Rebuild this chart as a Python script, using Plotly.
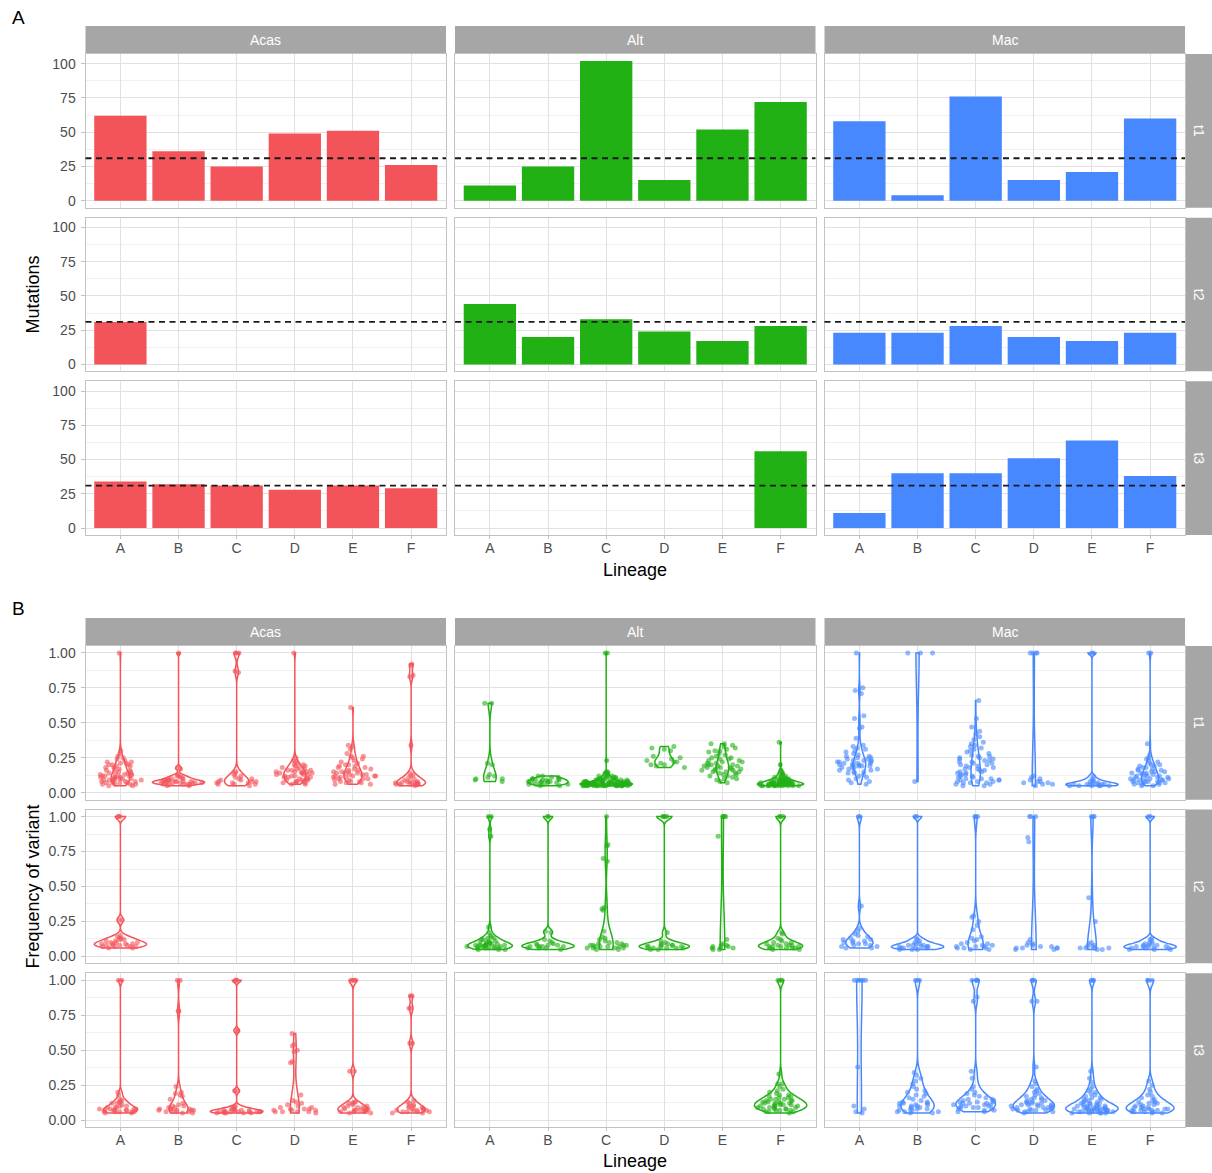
import plotly.graph_objects as go

# ---------------------------------------------------------------- data
lineages = ["A", "B", "C", "D", "E", "F"]
species = ["Acas", "Alt", "Mac"]
timepoints = ["t1", "t2", "t3"]

# Number of mutations per lineage (None = lineage not sampled)
mut_acas_t1 = [62, 36, 25, 49, 51, 26]
mut_alt_t1 = [11, 25, 102, 15, 52, 72]
mut_mac_t1 = [58, 4, 76, 15, 21, 60]
mut_acas_t2 = [31, None, None, None, None, None]
mut_alt_t2 = [44, 20, 33, 24, 17, 28]
mut_mac_t2 = [23, 23, 28, 20, 17, 23]
mut_acas_t3 = [34, 32, 31, 28, 31, 29]
mut_alt_t3 = [None, None, None, None, None, 56]
mut_mac_t3 = [11, 40, 40, 51, 64, 38]
mutation_reference = 31

# Variant frequencies (percent) per lineage
freq_acas_t1 = {
    "A": [5, 5, 6, 6, 6, 6, 7, 7, 7, 7, 8, 8, 8, 8, 9, 9, 9, 9, 10, 10, 10, 10, 11, 11, 11, 11, 12, 12, 12, 12,
          13, 13, 13, 13, 14, 14, 14, 15, 15, 16, 16, 17, 17, 18, 18, 19, 19, 20, 20, 20, 21, 21, 22, 22, 23, 24,
          25, 26, 28, 30, 100],
    "B": [5, 5, 6, 6, 6, 6, 6, 7, 7, 7, 7, 7, 7, 7, 8, 8, 8, 8, 8, 8, 9, 9, 9, 9, 10, 10, 10, 11, 11, 12, 12, 13,
          17, 18, 100],
    "C": [5, 6, 6, 6, 7, 7, 7, 8, 8, 8, 9, 9, 10, 10, 11, 12, 13, 14, 15, 86, 87, 100, 100, 100],
    "D": [6, 6, 7, 7, 7, 8, 8, 8, 9, 9, 9, 10, 10, 10, 11, 11, 11, 12, 12, 12, 13, 13, 13, 14, 14, 14, 14, 15, 15,
          15, 15, 16, 16, 16, 17, 17, 18, 18, 19, 19, 20, 20, 21, 22, 23, 25, 100],
    "E": [6, 6, 7, 7, 8, 8, 8, 9, 9, 10, 10, 10, 11, 11, 11, 12, 12, 12, 12, 13, 13, 13, 14, 14, 14, 15, 15, 15,
          16, 16, 17, 17, 18, 18, 19, 19, 20, 20, 21, 22, 23, 24, 25, 26, 26, 28, 31, 33, 34, 61],
    "F": [5, 6, 6, 6, 6, 6, 6, 7, 7, 7, 7, 7, 8, 8, 8, 9, 10, 11, 12, 13, 14, 34, 83, 84, 91, 92],
}
freq_alt_t1 = {
    "A": [8, 9, 10, 10, 11, 12, 13, 20, 21, 64, 64],
    "B": [5, 5, 6, 6, 6, 7, 7, 7, 7, 8, 8, 8, 8, 9, 9, 9, 9, 10, 10, 10, 11, 11, 12, 12, 6],
    "C": [5, 5, 5, 5, 5, 5, 5, 5, 5, 5, 5, 5, 5, 5, 5, 5, 5, 5, 6, 6, 6, 6, 6, 6, 6, 6, 6, 6, 6, 6, 6, 6, 6, 6, 6,
          6, 6, 6, 6, 6, 6, 6, 6, 6, 7, 7, 7, 7, 7, 7, 7, 7, 7, 7, 7, 7, 7, 7, 7, 7, 7, 7, 8, 8, 8, 8, 8, 8, 8, 8,
          8, 8, 9, 9, 9, 9, 9, 9, 9, 10, 10, 10, 10, 10, 11, 11, 11, 11, 12, 12, 12, 13, 13, 14, 14, 15, 23, 100,
          100],
    "D": [18, 19, 20, 20, 21, 22, 22, 23, 24, 25, 26, 30, 31, 32, 33],
    "E": [7, 8, 9, 10, 10, 11, 12, 12, 13, 13, 14, 14, 15, 15, 15, 16, 16, 16, 17, 17, 17, 18, 18, 18, 19, 19, 19,
          20, 20, 20, 21, 21, 22, 22, 23, 23, 24, 24, 25, 25, 26, 27, 28, 29, 30, 30, 31, 32, 33, 34, 35, 35],
    "F": [5, 5, 5, 5, 5, 5, 5, 5, 5, 5, 5, 5, 6, 6, 6, 6, 6, 6, 6, 6, 6, 6, 6, 6, 6, 6, 6, 7, 7, 7, 7, 7, 7, 7,
          7, 7, 7, 7, 7, 8, 8, 8, 8, 8, 8, 8, 8, 9, 9, 9, 9, 9, 9, 10, 10, 10, 10, 10, 11, 11, 12, 12, 13, 13, 14,
          15, 16, 20, 36],
}
freq_mac_t1 = {
    "A": [6, 7, 8, 9, 10, 11, 12, 13, 14, 14, 15, 15, 16, 16, 17, 17, 18, 18, 18, 19, 19, 19, 20, 20, 20, 20, 21,
          21, 21, 22, 22, 22, 23, 23, 23, 24, 24, 25, 25, 26, 26, 27, 28, 29, 30, 31, 32, 33, 34, 39, 46, 47, 53,
          55, 71, 73, 75, 100],
    "B": [8, 100, 100, 100],
    "C": [5, 5, 6, 6, 7, 7, 7, 8, 8, 8, 9, 9, 9, 10, 10, 10, 11, 11, 12, 12, 13, 13, 14, 14, 15, 15, 16, 16, 17,
          17, 18, 18, 19, 19, 20, 20, 21, 21, 22, 22, 23, 23, 24, 24, 25, 25, 26, 26, 27, 28, 29, 30, 31, 32, 33,
          34, 35, 36, 38, 40, 42, 44, 47, 53, 66],
    "D": [5, 6, 6, 7, 7, 8, 8, 9, 10, 11, 12, 100, 100, 100, 100],
    "E": [5, 5, 5, 5, 5, 5, 6, 6, 6, 6, 6, 6, 7, 7, 8, 8, 9, 10, 12, 100, 100],
    "F": [5, 5, 6, 6, 6, 7, 7, 7, 7, 8, 8, 8, 8, 9, 9, 9, 9, 10, 10, 10, 10, 11, 11, 11, 12, 12, 12, 13, 13, 13,
          14, 14, 14, 15, 15, 15, 16, 16, 17, 17, 18, 18, 19, 19, 20, 20, 21, 22, 23, 24, 25, 27, 35, 100, 100],
}
freq_acas_t2 = {
    "A": [6, 6, 7, 7, 7, 7, 8, 8, 8, 8, 9, 9, 9, 9, 10, 10, 10, 11, 11, 12, 12, 13, 13, 14, 15, 26, 26, 100, 100,
          100],
}
freq_alt_t2 = {
    "A": [5, 5, 5, 6, 6, 6, 6, 6, 7, 7, 7, 7, 7, 7, 8, 8, 8, 8, 8, 9, 9, 9, 9, 10, 10, 10, 11, 11, 12, 12, 13, 13,
          14, 15, 17, 21, 86, 91, 100, 100],
    "B": [5, 6, 6, 7, 7, 7, 7, 8, 8, 8, 9, 9, 10, 11, 12, 6, 17, 18, 100, 100],
    "C": [5, 5, 6, 6, 6, 7, 7, 7, 8, 8, 8, 9, 9, 10, 10, 11, 12, 13, 14, 6, 7, 8, 18, 33, 34, 35, 68, 70, 79, 80,
          100],
    "D": [5, 5, 6, 6, 6, 6, 7, 7, 7, 7, 8, 8, 8, 9, 9, 10, 11, 17, 100, 100, 100, 100],
    "E": [5, 5, 6, 6, 6, 7, 7, 8, 8, 9, 12, 86, 100, 100, 100, 100],
    "F": [5, 5, 6, 6, 6, 6, 7, 7, 7, 7, 8, 8, 8, 9, 9, 10, 10, 11, 12, 13, 16, 17, 100, 100, 100],
}
freq_mac_t2 = {
    "A": [6, 6, 7, 7, 8, 8, 9, 9, 10, 10, 11, 11, 12, 12, 13, 14, 15, 16, 18, 20, 36, 100, 100],
    "B": [5, 5, 5, 6, 6, 6, 6, 7, 7, 7, 7, 8, 8, 8, 9, 9, 10, 11, 12, 13, 100, 100],
    "C": [5, 5, 6, 6, 6, 7, 7, 7, 8, 8, 9, 9, 10, 11, 12, 13, 14, 19, 22, 25, 28, 29, 100, 100, 100],
    "D": [5, 5, 6, 6, 6, 6, 7, 7, 8, 8, 9, 10, 12, 82, 85, 100, 100, 100],
    "E": [5, 5, 6, 6, 6, 6, 7, 7, 8, 9, 10, 25, 42, 100, 100, 100],
    "F": [5, 5, 5, 6, 6, 6, 6, 7, 7, 7, 7, 8, 8, 8, 9, 9, 10, 11, 12, 13, 100, 100],
}
freq_acas_t3 = {
    "A": [5, 5, 6, 6, 6, 6, 6, 7, 7, 7, 7, 7, 8, 8, 8, 8, 9, 9, 9, 10, 10, 11, 12, 12, 13, 13, 14, 15, 18, 20,
          100, 100],
    "B": [5, 5, 6, 6, 6, 6, 7, 7, 7, 7, 8, 8, 8, 8, 9, 9, 10, 10, 11, 12, 15, 17, 18, 19, 20, 24, 78, 78, 100, 100],
    "C": [5, 5, 5, 5, 5, 6, 6, 6, 6, 6, 6, 6, 6, 6, 7, 7, 7, 7, 7, 8, 8, 9, 9, 10, 21, 21, 64, 64, 100, 100, 100],
    "D": [5, 6, 6, 6, 6, 7, 7, 7, 8, 8, 8, 9, 9, 10, 11, 12, 13, 14, 18, 41, 42, 49, 50, 53, 54, 62],
    "E": [5, 5, 6, 6, 6, 6, 7, 7, 7, 7, 8, 8, 8, 9, 9, 9, 10, 10, 11, 12, 12, 13, 13, 35, 35, 100, 100, 100, 100],
    "F": [5, 5, 6, 6, 6, 6, 7, 7, 7, 7, 8, 8, 8, 9, 9, 10, 10, 11, 12, 13, 14, 55, 55, 80, 80, 89, 89],
}
freq_alt_t3 = {
    "F": [5, 6, 6, 6, 7, 7, 7, 8, 8, 8, 8, 9, 9, 9, 9, 10, 10, 10, 10, 11, 11, 11, 11, 12, 12, 12, 12, 13, 13,
          13, 14, 14, 14, 15, 15, 15, 16, 16, 17, 17, 18, 18, 19, 20, 21, 22, 24, 26, 26, 33, 100, 100, 100],
}
freq_mac_t3 = {
    "A": [5, 6, 8, 10, 38, 100, 100, 100, 100, 100, 100],
    "B": [5, 5, 6, 6, 7, 7, 8, 8, 9, 9, 10, 10, 11, 11, 12, 12, 13, 13, 14, 15, 16, 17, 18, 19, 20, 21, 22, 24, 26,
          28, 30, 32, 34, 6, 8, 10, 12, 100, 100, 100],
    "C": [6, 6, 7, 7, 8, 8, 9, 9, 9, 10, 10, 10, 11, 11, 11, 12, 12, 12, 13, 13, 13, 14, 14, 15, 15, 16, 17, 18, 19,
          20, 22, 24, 30, 35, 85, 88, 100, 100, 100, 100],
    "D": [5, 6, 6, 6, 7, 7, 7, 8, 8, 8, 9, 9, 9, 10, 10, 10, 11, 11, 11, 12, 12, 12, 13, 13, 14, 14, 15, 15, 16, 16,
          17, 18, 19, 20, 21, 22, 24, 26, 28, 38, 7, 9, 11, 85, 85, 100, 100, 100],
    "E": [5, 5, 5, 5, 5, 6, 6, 6, 6, 6, 6, 7, 7, 7, 7, 7, 7, 8, 8, 8, 8, 8, 8, 9, 9, 9, 9, 9, 10, 10, 10, 10, 11,
          11, 11, 12, 12, 12, 13, 13, 14, 14, 15, 15, 16, 16, 17, 18, 19, 20, 21, 22, 24, 27, 30, 35, 100, 100, 100],
    "F": [5, 5, 6, 6, 6, 7, 7, 7, 8, 8, 8, 9, 9, 9, 10, 10, 11, 11, 12, 12, 13, 13, 14, 15, 16, 17, 18, 20, 22, 25,
          28, 6, 7, 8, 100, 100, 100],
}

mutations = {
    ("Acas", "t1"): mut_acas_t1, ("Alt", "t1"): mut_alt_t1, ("Mac", "t1"): mut_mac_t1,
    ("Acas", "t2"): mut_acas_t2, ("Alt", "t2"): mut_alt_t2, ("Mac", "t2"): mut_mac_t2,
    ("Acas", "t3"): mut_acas_t3, ("Alt", "t3"): mut_alt_t3, ("Mac", "t3"): mut_mac_t3,
}
frequencies = {
    ("Acas", "t1"): freq_acas_t1, ("Alt", "t1"): freq_alt_t1, ("Mac", "t1"): freq_mac_t1,
    ("Acas", "t2"): freq_acas_t2, ("Alt", "t2"): freq_alt_t2, ("Mac", "t2"): freq_mac_t2,
    ("Acas", "t3"): freq_acas_t3, ("Alt", "t3"): freq_alt_t3, ("Mac", "t3"): freq_mac_t3,
}

# ---------------------------------------------------------------- style
W, H = 1212, 1173
FONT = "Liberation Sans, Arial, Helvetica, sans-serif"
colors = {"Acas": "#F3545A", "Alt": "#22B115", "Mac": "#4788FF"}
STRIP_FILL = "#A6A6A6"
BORDER = "#C2C2C2"
GRID_MAJOR = "#E1E1E1"
GRID_MINOR = "#F0F0F0"
TICK_TXT = "#4D4D4D"

col_left = [85.5, 455.0, 824.5]
col_width = 360.5
right_strip = (1185.5, 1212.0)
blocks = [
    dict(label="A", label_y=16.5, strip=(25, 53), rows=[53, 217, 381], yrange=[-5.1, 107.1], dtick=25,
         fmt="d", title="Mutations", lineage_y=570),
    dict(label="B", label_y=608.5, strip=(618, 646), rows=[646, 810, 974], yrange=[-0.05, 1.05], dtick=0.25,
         fmt=".2f", title="Frequency of variant", lineage_y=1162),
]
ROW_H = 154


def xd(px):
    return px / W


def yd(px):
    return 1 - px / H


fig = go.Figure()
layout_axes = {}
shapes = []
annotations = []

for b, blk in enumerate(blocks):
    for r, tp in enumerate(timepoints):
        top = blk["rows"][r]
        bottom = top + ROW_H
        for c, sp in enumerate(species):
            idx = b * 9 + r * 3 + c + 1
            xname = "x" if idx == 1 else f"x{idx}"
            yname = "y" if idx == 1 else f"y{idx}"
            left = col_left[c]
            right = left + col_width
            is_bottom = r == 2
            is_left = c == 0
            col = colors[sp]

            layout_axes["xaxis" if idx == 1 else f"xaxis{idx}"] = dict(
                domain=[xd(left), xd(right)], anchor=yname, range=[-0.6, 5.6],
                tickmode="array", tickvals=list(range(len(lineages))), ticktext=lineages,
                showgrid=True, gridcolor=GRID_MAJOR, gridwidth=1, zeroline=False,
                showline=True, mirror=True, linecolor=BORDER, linewidth=1,
                ticks="outside" if is_bottom else "", ticklen=3, tickcolor=BORDER,
                showticklabels=is_bottom, ticklabelstandoff=-3,
                tickfont=dict(family=FONT, size=14, color=TICK_TXT),
            )
            layout_axes["yaxis" if idx == 1 else f"yaxis{idx}"] = dict(
                domain=[yd(bottom), yd(top)], anchor=xname, range=blk["yrange"],
                tickmode="linear", tick0=0, dtick=blk["dtick"], tickformat=blk["fmt"],
                showgrid=True, gridcolor=GRID_MAJOR, gridwidth=1, zeroline=False,
                minor=dict(tick0=0, dtick=blk["dtick"] / 2, showgrid=True, gridcolor=GRID_MINOR,
                           gridwidth=1, ticks=""),
                showline=True, mirror=True, linecolor=BORDER, linewidth=1,
                ticks="outside" if is_left else "", ticklen=4, tickcolor=BORDER,
                showticklabels=is_left, ticklabelstandoff=2,
                tickfont=dict(family=FONT, size=14, color=TICK_TXT),
            )

            if b == 0:
                vals = mutations[(sp, tp)]
                xs = [i for i, v in enumerate(vals) if v is not None]
                ys = [v for v in vals if v is not None]
                fig.add_trace(go.Bar(
                    x=xs, y=ys, width=0.9, marker=dict(color=col, line=dict(width=0)),
                    xaxis=xname, yaxis=yname, showlegend=False, hoverinfo="skip",
                ))
                shapes.append(dict(
                    type="line", xref=f"{xname} domain", yref=yname, x0=0, x1=1,
                    y0=mutation_reference, y1=mutation_reference,
                    line=dict(color="#1A1A1A", width=1.9, dash="6px,4.5px"), layer="above",
                ))
            else:
                # one trace per panel so all violins of a panel share one density scale
                xs, ys = [], []
                for lin, pct in frequencies[(sp, tp)].items():
                    pos = lineages.index(lin)
                    xs += [pos] * len(pct)
                    ys += [p / 100 for p in pct]
                fig.add_trace(go.Violin(
                    x=xs, y=ys, xaxis=xname, yaxis=yname, width=0.9,
                    scalemode="width", spanmode="hard",
                    points="all", pointpos=0, jitter=0.9,
                    line=dict(color=col, width=1.5), fillcolor="rgba(0,0,0,0)",
                    marker=dict(color=col, size=5, opacity=0.6, line=dict(width=0)),
                    box_visible=False, meanline_visible=False,
                    showlegend=False, hoverinfo="skip",
                ))

            if r == 0:
                s0, s1 = blk["strip"]
                shapes.append(dict(type="rect", xref="paper", yref="paper",
                                   x0=xd(left), x1=xd(right), y0=yd(s1), y1=yd(s0),
                                   fillcolor=STRIP_FILL, line=dict(width=0), layer="below"))
                annotations.append(dict(text=sp, xref="paper", yref="paper",
                                        x=xd((left + right) / 2), y=yd((s0 + s1) / 2),
                                        showarrow=False, xanchor="center", yanchor="middle",
                                        font=dict(family=FONT, size=14, color="white")))
        shapes.append(dict(type="rect", xref="paper", yref="paper",
                           x0=xd(right_strip[0]), x1=xd(right_strip[1]), y0=yd(bottom), y1=yd(top),
                           fillcolor=STRIP_FILL, line=dict(width=0), layer="below"))
        annotations.append(dict(text=tp, xref="paper", yref="paper",
                                x=xd(sum(right_strip) / 2), y=yd((top + bottom) / 2),
                                showarrow=False, textangle=90, xanchor="center", yanchor="middle",
                                font=dict(family=FONT, size=14, color="white")))

    annotations.append(dict(text=blk["label"], xref="paper", yref="paper", x=xd(18), y=yd(blk["label_y"]),
                            showarrow=False, xanchor="center", yanchor="middle",
                            font=dict(family=FONT, size=19, color="black")))
    mid_y = (blk["rows"][0] + blk["rows"][2] + ROW_H) / 2
    annotations.append(dict(text=blk["title"], xref="paper", yref="paper", x=xd(33), y=yd(mid_y),
                            showarrow=False, textangle=-90, xanchor="center", yanchor="middle",
                            font=dict(family=FONT, size=18, color="black")))
    annotations.append(dict(text="Lineage", xref="paper", yref="paper",
                            x=xd((col_left[0] + col_left[2] + col_width) / 2), y=yd(blk["lineage_y"]),
                            showarrow=False, xanchor="center", yanchor="middle",
                            font=dict(family=FONT, size=18, color="black")))

fig.update_layout(
    width=W, height=H, autosize=False,
    margin=dict(l=0, r=0, t=0, b=0),
    paper_bgcolor="white", plot_bgcolor="white",
    violinmode="overlay", barmode="overlay",
    shapes=shapes, annotations=annotations,
    font=dict(family=FONT),
    **layout_axes,
)

fig.write_html("out.html")
